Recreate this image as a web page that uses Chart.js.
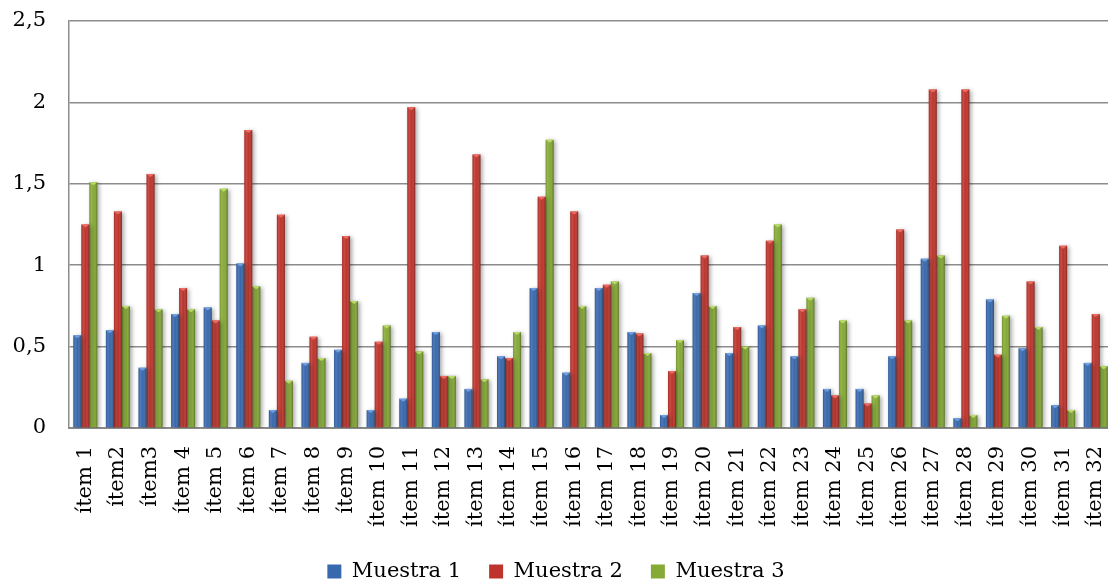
<!DOCTYPE html>
<html lang="es">
<head>
<meta charset="utf-8">
<title>Muestras por ítem</title>
<script src="https://cdn.jsdelivr.net/npm/chart.js@4/dist/chart.umd.min.js"></script>
<style>
  html, body { margin: 0; padding: 0; background: #ffffff; overflow: hidden; }
  #wrap { width: 1112px; height: 585px; }
</style>
</head>
<body>
<div id="wrap"><canvas id="chart" width="1112" height="585"></canvas></div>
<script>
const categories = ['ítem 1','ítem2','ítem3','ítem 4','ítem 5','ítem 6','ítem 7','ítem 8','ítem 9','ítem 10',
  'ítem 11','ítem 12','ítem 13','ítem 14','ítem 15','ítem 16','ítem 17','ítem 18','ítem 19','ítem 20',
  'ítem 21','ítem 22','ítem 23','ítem 24','ítem 25','ítem 26','ítem 27','ítem 28','ítem 29','ítem 30',
  'ítem 31','ítem 32'];

const muestra1 = [0.57,0.60,0.37,0.70,0.74,1.01,0.11,0.40,0.48,0.11,0.18,0.59,0.24,0.44,0.86,0.34,
  0.86,0.59,0.08,0.83,0.46,0.63,0.44,0.24,0.24,0.44,1.04,0.06,0.79,0.49,0.14,0.40];
const muestra2 = [1.25,1.33,1.56,0.86,0.66,1.83,1.31,0.56,1.18,0.53,1.97,0.32,1.68,0.43,1.42,1.33,
  0.88,0.58,0.35,1.06,0.62,1.15,0.73,0.20,0.15,1.22,2.08,2.08,0.45,0.90,1.12,0.70];
const muestra3 = [1.51,0.75,0.73,0.73,1.47,0.87,0.29,0.43,0.78,0.63,0.47,0.32,0.30,0.59,1.77,0.75,
  0.90,0.46,0.54,0.75,0.50,1.25,0.80,0.66,0.20,0.66,1.06,0.08,0.69,0.62,0.11,0.38];

const seriesNames = ['Muestra 1','Muestra 2','Muestra 3'];
const yTickLabels = ['0','0,5','1','1,5','2','2,5'];

const fillColors = ['#3868ad','#be342c','#86aa36'];
const capColors  = ['#6f9fe0','#ee6a60','#b9db66'];
const FONT = '"DejaVu Serif", "Liberation Serif", serif';

// Soft drop shadow behind every bar
const barShadow = {
  id: 'barShadow',
  beforeDatasetDraw(chart) {
    const ctx = chart.ctx;
    ctx.save();
    ctx.shadowColor = 'rgba(0,0,0,0.35)';
    ctx.shadowBlur = 4;
    ctx.shadowOffsetX = 2;
    ctx.shadowOffsetY = 1;
  },
  afterDatasetDraw(chart) {
    chart.ctx.restore();
  }
};

// Bevelled look: side shading and a small pyramid cap on each bar
const barBevel = {
  id: 'barBevel',
  afterDatasetsDraw(chart) {
    const ctx = chart.ctx;
    chart.data.datasets.forEach((ds, di) => {
      const meta = chart.getDatasetMeta(di);
      if (meta.hidden) return;
      meta.data.forEach(bar => {
        const p = bar.getProps(['x','y','base','width'], true);
        const l = p.x - p.width / 2, r = p.x + p.width / 2;
        const top = p.y, h = p.base - p.y;
        if (h <= 0) return;
        const g = ctx.createLinearGradient(l, 0, r, 0);
        g.addColorStop(0, 'rgba(0,0,0,0.12)');
        g.addColorStop(0.25, 'rgba(255,255,255,0.12)');
        g.addColorStop(0.55, 'rgba(255,255,255,0.0)');
        g.addColorStop(1, 'rgba(0,0,0,0.35)');
        ctx.save();
        ctx.fillStyle = g;
        ctx.fillRect(l, top, p.width, h);
        // cap
        const capH = Math.min(3, h);
        ctx.fillStyle = capColors[di];
        ctx.beginPath();
        ctx.moveTo(l, top);
        ctx.lineTo(r, top);
        ctx.lineTo(p.x, top + capH);
        ctx.closePath();
        ctx.fill();
        ctx.restore();
      });
    });
  }
};

new Chart(document.getElementById('chart'), {
  type: 'bar',
  data: {
    labels: categories,
    datasets: [
      { label: seriesNames[0], data: muestra1, backgroundColor: fillColors[0], borderWidth: 0 },
      { label: seriesNames[1], data: muestra2, backgroundColor: fillColors[1], borderWidth: 0 },
      { label: seriesNames[2], data: muestra3, backgroundColor: fillColors[2], borderWidth: 0 }
    ]
  },
  options: {
    responsive: false,
    animation: false,
    devicePixelRatio: 1,
    layout: { padding: { top: 21, right: 0, bottom: -7, left: 0 } },
    datasets: { bar: { categoryPercentage: 0.737, barPercentage: 1.0 } },
    scales: {
      x: {
        grid: { display: false, drawTicks: false },
        border: { display: true, color: '#8a8a8a', width: 2 },
        ticks: {
          color: '#000',
          font: { family: FONT, size: 21 },
          minRotation: 90, maxRotation: 90,
          padding: 18,
          autoSkip: false
        },
        afterFit(scale) {
          scale.height = 105;
          scale.paddingLeft = 0;
          scale.paddingRight = 0;
        }
      },
      y: {
        min: 0, max: 2.5,
        grid: { color: '#8c8c8c', lineWidth: 1.5, drawTicks: false },
        border: { display: true, color: '#8c8c8c', width: 1.5 },
        ticks: {
          stepSize: 0.5,
          color: '#000',
          font: { family: FONT, size: 21 },
          padding: 23,
          callback: (v, i) => yTickLabels[i]
        },
        afterFit(scale) {
          scale.width = 69;
          scale.paddingTop = 0;
          scale.paddingBottom = 0;
        }
      }
    },
    plugins: {
      legend: {
        position: 'bottom',
        labels: {
          color: '#000',
          font: { family: FONT, size: 21 },
          boxWidth: 14, boxHeight: 14,
          padding: 28
        }
      },
      tooltip: { enabled: false }
    }
  },
  plugins: [barShadow, barBevel]
});
</script>
</body>
</html>
